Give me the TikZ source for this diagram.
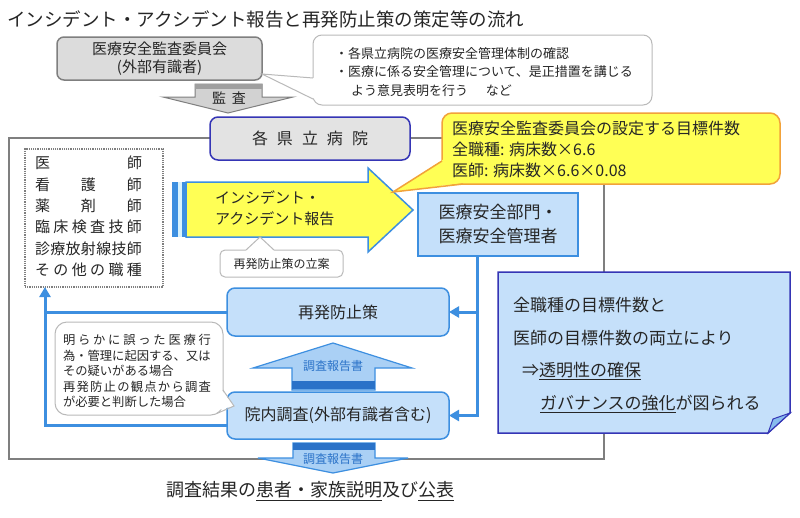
\documentclass[tikz,border=0pt]{standalone}
\usepackage{fontspec}
\setmainfont{Noto Sans CJK JP}
\usetikzlibrary{arrows.meta,calc}
\definecolor{bl}{HTML}{3D8FE0}
\definecolor{lbl}{HTML}{C5E0FA}
\definecolor{dbl}{HTML}{2A72C8}
\definecolor{ylw}{HTML}{FFFF55}
\definecolor{org}{HTML}{F2A23A}
\definecolor{gbox}{HTML}{DCDCDC}
\definecolor{gline}{HTML}{7F7F7F}
\definecolor{txt}{HTML}{262626}
\definecolor{navy}{HTML}{3535B5}
\newcommand{\fs}[2]{\fontsize{#1pt}{#2pt}\selectfont}
\begin{document}
\begin{tikzpicture}[x=1pt,y=-1pt,
  every node/.style={inner sep=0pt, outer sep=0pt, text=txt},
  conn/.style={draw=bl, line width=3pt, -{Triangle[length=10pt,width=11pt]}},
  bluebox/.style={draw=bl, line width=1.5pt, fill=lbl},
  callbox/.style={draw=gray!55, line width=1pt, fill=white},
  blockarrow/.style={draw=bl, line width=1.2pt, fill=lbl!80!bl}]
\useasboundingbox (0,0) rectangle (800,517);
\fill[white] (0,0) rectangle (800,517);

% title
\node[anchor=west, font=\fs{18.5}{22}] (title) at (7,19) {インシデント・アクシデント報告と再発防止策の策定等の流れ};

% outer frame
\draw[gline, line width=2.2pt] (9,138) rectangle (604,459);

% committee
\node[draw=gline, line width=1.5pt, fill=gbox, rounded corners=7pt, minimum width=205pt, minimum height=43pt, align=center, font=\fs{15}{18}] (comm) at (159.5,58.5) {医療安全監査委員会\\(外部有識者)};

% top callout
\node[callbox, rounded corners=9pt, minimum width=339pt, minimum height=70pt] (cb1) at (482.5,70) {};
\fill[white] ($(cb1.west)+(2,8)$) -- ($(comm.south east)+(0,-6)$) -- ($(cb1.west)+(2,29)$) -- cycle;
\draw[gray!55, line width=1pt] ($(cb1.west)+(0,8)$) -- ($(comm.south east)+(0,-6)$) -- ($(cb1.west)+(0,29)$);
\node[anchor=west, align=left, font=\fs{13}{18.5}] (cb1t) at (335,72) {・各県立病院の医療安全管理体制の確認\\・医療に係る安全管理について、是正措置を講じる\\\hspace{16pt}よう意見表明を行う\hspace{18pt}など};

% kansa arrow
\draw[gline, fill=gray!35, line width=1pt] (195,84) -- (262,84) -- (262,97) -- (293,97) -- (228,113) -- (163,97) -- (195,97) -- cycle;
\fill[gray!75] (195,84) rectangle (262,89);
\node[font=\fs{14}{16}] (kansa) at (229,98) {監\hspace{6pt}査};

% hospital
\node[draw=navy, line width=1.5pt, fill=gbox!80, rounded corners=8pt, minimum width=200pt, minimum height=43pt, font=\fs{16}{18}] (hosp) at (310,138.5) {各\hspace{9pt}県\hspace{9pt}立\hspace{9pt}病\hspace{9pt}院};

% professions
\node[draw=gline, densely dotted, line width=1.2pt, minimum width=138pt, minimum height=138pt] (prof) at (94,218) {};
\node[align=left, font=\fs{15}{21.4}] (proft) at (88.5,216.5) {\makebox[107pt][s]{医\hfill 師}\\\makebox[107pt][s]{看\hfill 護\hfill 師}\\\makebox[107pt][s]{薬\hfill 剤\hfill 師}\\\makebox[107pt][s]{臨\hfill 床\hfill 検\hfill 査\hfill 技\hfill 師}\\\makebox[107pt][s]{診\hfill 療\hfill 放\hfill 射\hfill 線\hfill 技\hfill 師}\\\makebox[107pt][s]{そ\hfill の\hfill 他\hfill の\hfill 職\hfill 種}};

% boxes
\node[bluebox, minimum width=160pt, minimum height=63pt, align=center, font=\fs{17}{24}] (mgr) at (498,224.5) {医療安全部門・\\医療安全管理者};
\node[bluebox, rounded corners=8pt, minimum width=222pt, minimum height=48pt, font=\fs{16}{18}] (prev) at (338,312) {再発防止策};
\node[bluebox, rounded corners=8pt, minimum width=222pt, minimum height=47pt, font=\fs{16}{18}] (inv) at (338,415.5) {院内調査(外部有識者含む)};

% connectors
\coordinate (mgrout) at ($(mgr.south)+(-21,0)$);
\draw[conn] (mgrout) |- (prev.east);
\draw[conn] (mgrout) |- (inv.east);
\coordinate (invL) at ($(inv.west)+(0,9.5)$);
\coordinate (profin) at ($(prof.south west)+(20,0)$);
\draw[conn] (invL) -| (profin);
\draw[draw=bl, line width=3pt] (prev.west) -- (prev.west -| profin);

% yellow block arrow
\draw[bl, line width=1.5pt, fill=ylw] (186,182) -- (368,182) -- (368,168) -- (413,210) -- (368,252) -- (368,237) -- (186,237) -- cycle;
\fill[bl] (172,182) rectangle (178,237);
\fill[cyan!15] (178,182) rectangle (182,237);
\fill[bl] (182,182) rectangle (187,237);
\node[anchor=west, align=left, font=\fs{15}{21}] (rep) at (215,208) {インシデント・\\アクシデント報告};

% plan callout
\node[callbox, rounded corners=5pt, minimum width=123pt, minimum height=27pt, font=\fs{12}{14}] (plan) at (281.5,263.5) {再発防止策の立案};
\fill[white] (245,251.5) -- (260,237) -- (275,251.5) -- cycle;
\draw[gray!55, line width=1pt] (246,250) -- (260,237) -- (274,250);

% goal callout
\node[draw=org, line width=1.5pt, fill=ylw, rounded corners=10pt, minimum width=338pt, minimum height=71pt] (goal) at (611,148.5) {};
\fill[ylw] (444,159) -- (393,192) -- (467,182.5) -- cycle;
\draw[org, line width=1.5pt] (442,161) -- (393,192) -- (463,184);
\node[anchor=west, align=left, font=\fs{16}{21}] (goalt) at (452,149) {医療安全監査委員会の設定する目標件数\\全職種: 病床数×6.6\\医師: 病床数×6.6×0.08};

% condition callout
\node[callbox, rounded corners=12pt, minimum width=168pt, minimum height=93pt] (cond) at (139,368.5) {};
\fill[white] (221,389) -- (234,406) -- (215,411) -- cycle;
\draw[gray!55, line width=1pt] (223,390) -- (234,406) -- (217,413.4);
\node[align=left, font=\fs{12.3}{15.5}] (condt) at (137,371) {\makebox[148pt][s]{明\hfill ら\hfill か\hfill に\hfill 誤\hfill っ\hfill た\hfill 医\hfill 療\hfill 行}\\為・管理に起因する、又は\\その疑いがある場合\\\makebox[148pt][s]{再\hfill 発\hfill 防\hfill 止\hfill の\hfill 観\hfill 点\hfill か\hfill ら\hfill 調\hfill 査}\\が必要と判断した場合};

% report arrows
\draw[blockarrow] (292,390) -- (292,368) -- (253,368) -- (333,343) -- (412,368) -- (375,368) -- (375,390) -- cycle;
\fill[dbl] (292,381) rectangle (375,389);
\node[font=\fs{12}{14}, text=dbl] (rep1) at (333,366) {調査報告書};
\draw[blockarrow] (293,443) -- (375,443) -- (375,458) -- (408,458) -- (333,473) -- (258,458) -- (293,458) -- cycle;
\fill[dbl] (293,443) rectangle (375,450);
\node[font=\fs{12}{14}, text=dbl] (rep2) at (333,459) {調査報告書};

% bottom text
\node[font=\fs{18}{20}] (pub) at (310,491) {調査結果の\underline{患者・家族説明}及び\underline{公表}};

% blue note
\draw[navy, line width=1.5pt, fill=lbl] (498,272) -- (790,272) -- (790,413) -- (768,433) -- (498,433) -- cycle;
\draw[navy, line width=1pt, fill=bl!45!lbl] (790,413) -- (773,419) -- (768,433) -- cycle;
\node[anchor=base west, font=\fs{17}{20}] (n1) at (513,311) {全職種の目標件数と};
\node[anchor=base west, font=\fs{17}{20}] (n2) at (513,344) {医師の目標件数の両立により};
\node[anchor=base west, font=\fs{17}{20}] (n3) at (522,376) {⇒\underline{透明性の確保}};
\node[anchor=base west, font=\fs{17}{20}] (n4) at (540,409) {\underline{ガバナンスの強化}が図られる};
\end{tikzpicture}
\end{document}
